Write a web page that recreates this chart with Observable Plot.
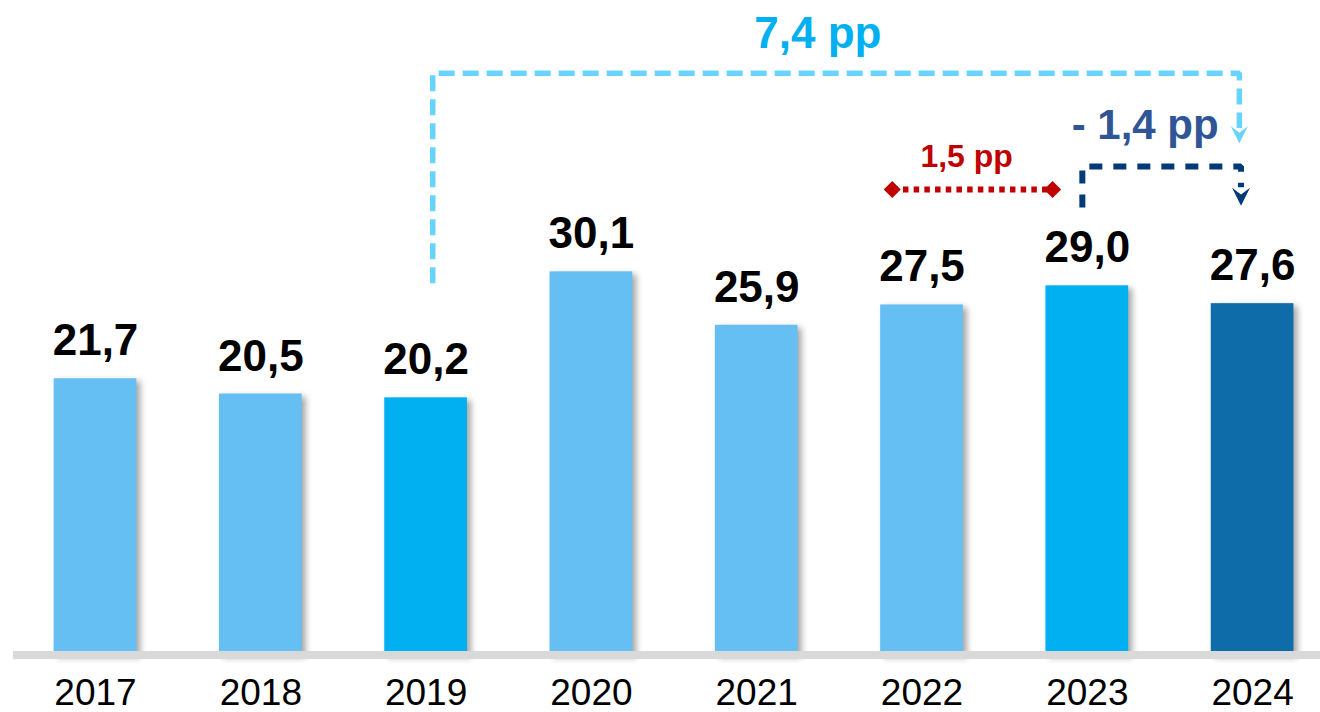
<!DOCTYPE html>
<html>
<head>
<meta charset="utf-8">
<script src="https://cdn.jsdelivr.net/npm/d3@7"></script>
<script src="https://cdn.jsdelivr.net/npm/@observablehq/plot@0.6"></script>
<style>
  html, body { margin: 0; padding: 0; background: #fff; overflow: hidden; }
  #chart { width: 1320px; height: 712px; }
</style>
</head>
<body>
<div id="chart"></div>
<script>
// ---- data ----
const years  = [2017, 2018, 2019, 2020, 2021, 2022, 2023, 2024];
const values = [21.7, 20.5, 20.2, 30.1, 25.9, 27.5, 29.0, 27.6];
const groups = ["base", "base", "ref", "base", "base", "base", "ref", "current"];

// annotation anchors (in data units: year, value)
const bracketLong  = [[2019.04, 29.2], [2019.04, 45.7], [2023.92, 45.7], [2023.92, 41.4]];
const arrowLongTip = [[2023.92, 40.2]];
const bracketShort = [[2022.97, 35.15], [2022.97, 38.37], [2023.93, 38.37], [2023.93, 36.75]];
const arrowShortTip = [[2023.93, 35.3]];
const redSpan = [[2021.82, 36.57], [2022.79, 36.57]];
const notes = [
  {x: 2021.37, y: 47.72, text: "7,4 pp", color: "#00B0F0", size: 44},
  {x: 2023.35, y: 40.57, text: "- 1,4 pp", color: "#2F5597", size: 42},
  {x: 2022.27, y: 38.37, text: "1,5 pp", color: "#C00000", size: 32}
];

const fmt = v => d3.format(".1f")(v).replace(".", ",");
const table = years.map((year, i) => ({year, value: values[i], group: groups[i], label: fmt(values[i])}));

// stealth arrowhead symbol, tip at the origin pointing down
const arrowHead = {
  draw(context, size) {
    const r = Math.sqrt(size / Math.PI);
    const w = r, h = r * 2;
    context.moveTo(0, 0);
    context.lineTo(-w, -h);
    context.lineTo(0, -h * 0.62);
    context.lineTo(w, -h);
    context.closePath();
  }
};

const chart = Plot.plot({
  width: 1320,
  height: 712,
  marginLeft: 13,
  marginRight: 0,
  marginTop: 18,
  marginBottom: 57.5,
  style: {fontFamily: "'Liberation Sans', Arial, sans-serif", color: "#000", background: "#fff"},
  x: {type: "linear", domain: [2016.5, 2024.5], range: [12.35, 1334.75]},
  y: {domain: [0, 50], axis: null},
  color: {domain: ["base", "ref", "current"], range: ["#65BFF3", "#00B0F0", "#0E6CA8"]},
  marks: [
    Plot.rectY(table, {
      x1: d => d.year - 0.5, x2: d => d.year + 0.5, y1: 0, y2: "value",
      fill: "group", insetLeft: 41.3, insetRight: 41.3
    }),
    Plot.ruleY([0], {stroke: "#D9D9D9", strokeWidth: 8}),
    Plot.axisX({
      ticks: years, tickFormat: d => String(d), tickSize: 0, tickPadding: 23.5,
      fontSize: 37, fill: "#000", label: null
    }),
    Plot.text(table, {
      x: "year", y: "value", text: "label", lineAnchor: "bottom", dy: -23.5,
      fontSize: 44, fontWeight: "bold", fill: "#000"
    }),
    // long light-blue bracket 2019 -> 2024
    Plot.line(bracketLong, {
      x: d => d[0], y: d => d[1], stroke: "#66D4FF", strokeWidth: 5.5,
      strokeDasharray: "16,8", strokeLinejoin: "miter", strokeLinecap: "butt"
    }),
    Plot.dot(arrowLongTip, {x: d => d[0], y: d => d[1], symbol: arrowHead, r: 8.5, fill: "#66D4FF", stroke: "none"}),
    // short dark-blue bracket 2023 -> 2024
    Plot.line(bracketShort, {
      x: d => d[0], y: d => d[1], stroke: "#003A78", strokeWidth: 6,
      strokeDasharray: "13,11", strokeLinejoin: "miter", strokeLinecap: "butt"
    }),
    Plot.dot(arrowShortTip, {x: d => d[0], y: d => d[1], symbol: arrowHead, r: 9, fill: "#003A78", stroke: "none"}),
    // red dotted span
    Plot.line(redSpan, {
      x: d => d[0], y: d => d[1], stroke: "#C00000", strokeWidth: 6,
      strokeDasharray: "5.5,5.2", strokeLinecap: "butt"
    }),
    Plot.dot(redSpan, {x: d => d[0], y: d => d[1], symbol: "square", r: 6.8, rotate: 45, fill: "#C00000", stroke: "none"}),
    // annotation labels
    Plot.text(notes, {
      x: "x", y: "y", text: "text", fill: "color", fontSize: d => d.size,
      fontWeight: "bold", lineAnchor: "bottom"
    })
  ]
});

// bar drop shadow
const barGroup = chart.querySelector('g[aria-label="rect"]');
if (barGroup) barGroup.style.filter = "drop-shadow(4px 3px 3px rgba(0,0,0,0.35))";

document.getElementById("chart").appendChild(chart);
</script>
</body>
</html>
